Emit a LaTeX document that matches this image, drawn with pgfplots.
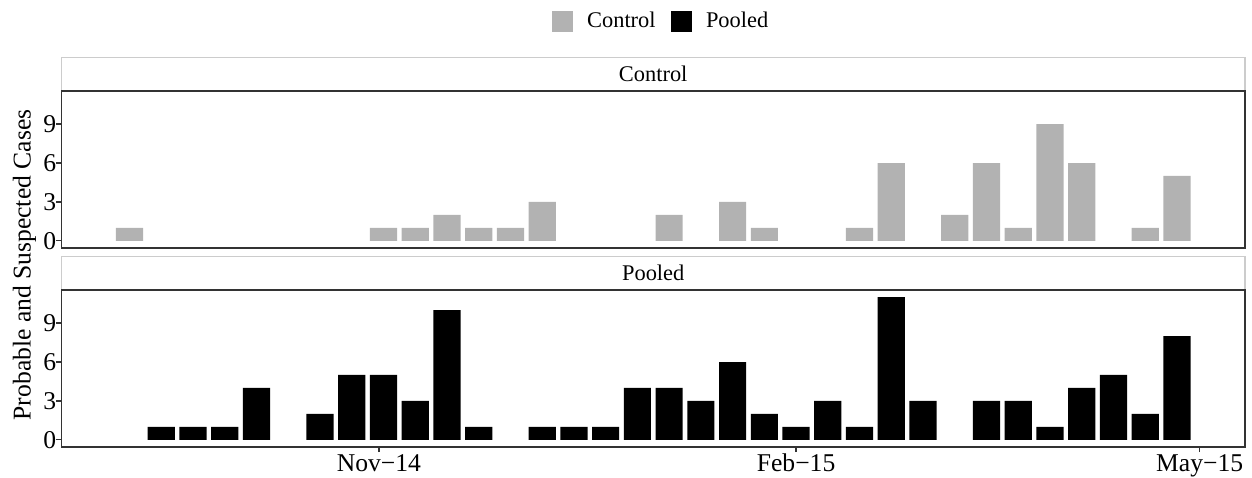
\documentclass[border=0pt]{standalone}
\usepackage{fontspec}
\setmainfont{Liberation Serif}
\usepackage{pgfplots}
\pgfplotsset{compat=1.18}

\definecolor{ctrlgray}{gray}{0.70}
\definecolor{panelborder}{gray}{0.20}
\definecolor{stripborder}{gray}{0.80}

% x is days from 1 Nov 2014, bars are weekly counts
\pgfplotsset{
  facet/.style={
    scale only axis, width=591.75pt, height=78.5pt,
    anchor=south west,
    xmin=-70, xmax=191, ymin=-0.55, ymax=11.55,
    ytick={0,3,6,9}, ytick pos=left,
    axis line style={panelborder, line width=0.6pt},
    tick style={panelborder, line width=0.6pt},
    major tick length=2.5pt, tick align=outside,
    ybar, bar width=6, bar shift=0pt,
    /pgf/number format/assume math mode=true,
    tick label style={font=\fontsize{12.8}{15}\selectfont},
    yticklabel style={inner sep=0pt},
    xticklabel style={inner sep=0pt, anchor=base, yshift=-9.9pt},
  },
}

\begin{document}
\begin{tikzpicture}
\useasboundingbox (0,0) rectangle (626pt,238.5pt);

% strips
\draw[stripborder, fill=white, line width=0.6pt] (30.75pt,193pt) rectangle (622.5pt,209.75pt);
\draw[stripborder, fill=white, line width=0.6pt] (30.75pt,93.5pt) rectangle (622.5pt,110.15pt);
\node[anchor=base, font=\fontsize{11.2}{13}\selectfont] at (326.6pt,197.65pt) {Control};
\node[anchor=base, font=\fontsize{11.2}{13}\selectfont] at (326.6pt,98.1pt) {Pooled};

\begin{axis}[
  facet, at={(30.75pt,114.5pt)},
  xtick=\empty,
  legend image code/.code={\fill[#1] (0pt,-5.25pt) rectangle (10.5pt,5.25pt);},
  legend style={at={(0.5057,1.4446)}, anchor=center, draw=none, fill=none,
    legend columns=-1, column sep=0pt, nodes={inner sep=0pt},
    font=\fontsize{11.2}{13}\selectfont,
    /tikz/every odd column/.append style={column sep=7.2pt},
    /tikz/every even column/.append style={column sep=7.5pt}},
]
\addplot[fill=ctrlgray, draw=none] coordinates {
  (-55,1) (1,1) (8,1) (15,2) (22,1) (29,1) (36,3)
  (64,2) (78,3) (85,1) (106,1) (113,6)
  (127,2) (134,6) (141,1) (148,9) (155,6) (169,1) (176,5)
};
\addlegendentry{Control}
\addlegendimage{fill=black, draw=none}
\addlegendentry{Pooled}
\end{axis}

\begin{axis}[
  facet, at={(30.75pt,15pt)},
  xtick={0,92,181}, xtick pos=bottom,
  xticklabels={Nov−14,Feb−15,May−15},
]
\addplot[fill=black, draw=none] coordinates {
  (-48,1) (-41,1) (-34,1) (-27,4)
  (-13,2) (-6,5) (1,5) (8,3) (15,10) (22,1)
  (36,1) (43,1) (50,1) (57,4) (64,4) (71,3) (78,6) (85,2) (92,1)
  (99,3) (106,1) (113,11) (120,3)
  (134,3) (141,3) (148,1) (155,4) (162,5) (169,2) (176,8)
};
\end{axis}

\node[rotate=90, font=\fontsize{12.8}{15}\selectfont] at (12.2pt,106pt) {Probable and Suspected Cases};
\end{tikzpicture}
\end{document}
